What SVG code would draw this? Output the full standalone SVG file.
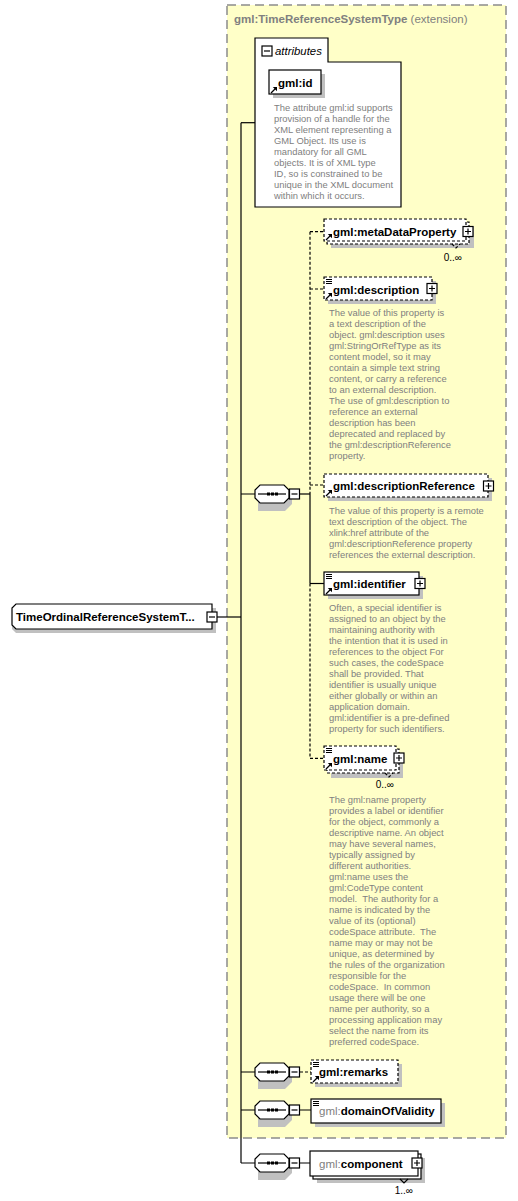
<svg xmlns="http://www.w3.org/2000/svg" xmlns:xlink="http://www.w3.org/1999/xlink" width="518" height="1201" viewBox="0 0 518 1201">
<defs>
<style>
.bg{fill:#ffffff}
.ext{fill:#ffffc8;stroke:#8c8c8c;stroke-width:1.5;stroke-dasharray:9,5}
.shadow{fill:#c0c0c0;stroke:none}
.box{fill:#ffffff;stroke:#000;stroke-width:1.2}
.opt{fill:#ffffff;stroke:#000;stroke-width:1.2;stroke-dasharray:3,2}
.ln{fill:none;stroke:#000;stroke-width:1.2}
.dln{fill:none;stroke:#000;stroke-width:1.2;stroke-dasharray:3,2}
.name{font-family:"Liberation Sans",Arial,sans-serif;font-size:11.5px;font-weight:bold;fill:#000}
.gray{fill:#808080}
.doc{font-family:"Liberation Sans",Arial,sans-serif;font-size:9.4px;fill:#808080;white-space:pre}
.occ{font-family:"Liberation Sans",Arial,sans-serif;font-size:10px;fill:#000}
.title{font-family:"Liberation Sans",Arial,sans-serif;font-size:11.5px;fill:#808080}
</style>
<g id="plus"><rect x="0" y="0" width="10" height="10" fill="#fff" stroke="#000" stroke-width="1.2"/><path d="M2,5H8M5,2V8" stroke="#000" stroke-width="1.2"/></g>
<g id="minus"><rect x="0" y="0" width="10" height="10" fill="#fff" stroke="#000" stroke-width="1.2"/><path d="M2,5H8" stroke="#000" stroke-width="1.2"/></g>
<g id="ref"><path d="M0,0L5,-5" stroke="#000" stroke-width="1.3"/><path d="M6,-6L1.8,-6L6,-1.8Z" fill="#000"/></g>
<g id="doci" shape-rendering="crispEdges"><path d="M0,0.5H6M0,2.5H6M0,4.5H6" stroke="#000" stroke-width="1"/></g>
<g id="seq">
<path d="M3,3H30L37,10V19L30,26H3Z" class="shadow"/>
<path d="M5,0H29L34,5V13L29,18H5L0,13V5Z" fill="#fff" stroke="#000" stroke-width="1.2"/>
<path d="M3,9H31" stroke="#000" stroke-width="1.2"/>
<rect x="12" y="7.5" width="3" height="3" fill="#000"/><rect x="16" y="7.5" width="3" height="3" fill="#000"/><rect x="20" y="7.5" width="3" height="3" fill="#000"/>
</g>
</defs>
<rect x="0" y="0" width="518" height="1201" class="bg"/>

<g id="extension">
<rect x="227" y="5" width="279" height="1133" class="ext"/>
<text x="234" y="23" class="title"><tspan font-weight="bold">gml:TimeReferenceSystemType</tspan> (extension)</text>
</g>

<g id="connectors">
<path d="M217,617H241" class="ln"/>
<path d="M241,122.7V1163" class="ln"/>
<path d="M241,122.7H255" class="ln"/>
<path d="M241,494H255M241,1072H255M241,1110H255M241,1163H255" class="ln"/>
<path d="M300,494H310" class="ln"/>
<path d="M310,231.7V494" class="dln"/>
<path d="M310,494V583.5" class="ln"/>
<path d="M310,583.5V758.3" class="dln"/>
<path d="M310,231.7H324M310,289H324M310,485H324M310,758.3H324" class="dln"/>
<path d="M310,583.5H324" class="ln"/>
<path d="M300,1072H311" class="dln"/>
<path d="M300,1110H311M300,1163H310" class="ln"/>
</g>

<g id="root">
<path d="M16,608H216V633H16L12,629V612Z" class="shadow"/>
<path d="M16,604H212V629H16L12,625V608Z" class="box"/>
<text x="16" y="621" class="name">TimeOrdinalReferenceSystemT...</text>
<use xlink:href="#minus" x="207" y="612"/>
</g>

<g id="attributes">
<path d="M255,38H328V62H401V207H255Z" class="box"/>
<use xlink:href="#minus" x="262" y="46"/>
<text x="275" y="55" font-family="Liberation Sans,Arial,sans-serif" font-size="11.4" font-style="italic" fill="#000">attributes</text>
</g>

<g id="gml-id">
<rect x="273" y="74" width="52" height="24" class="shadow"/>
<rect x="269" y="70" width="52" height="24" class="box"/>
<text x="278" y="86.5" class="name">gml:id</text>
<use xlink:href="#ref" x="271" y="93"/>
<text x="274" y="110.5" class="doc"><tspan x="274">The attribute gml:id supports</tspan><tspan x="274" dy="11">provision of a handle for the</tspan><tspan x="274" dy="11">XML element representing a</tspan><tspan x="274" dy="11">GML Object. Its use is</tspan><tspan x="274" dy="11">mandatory for all GML</tspan><tspan x="274" dy="11">objects. It is of XML type</tspan><tspan x="274" dy="11">ID, so is constrained to be</tspan><tspan x="274" dy="11">unique in the XML document</tspan><tspan x="274" dy="11">within which it occurs.</tspan></text>
</g>

<g id="seq1"><use xlink:href="#seq" x="255" y="485"/><use xlink:href="#minus" x="289.5" y="489"/></g>
<g id="seq2"><use xlink:href="#seq" x="255" y="1063"/><use xlink:href="#minus" x="289.5" y="1067"/></g>
<g id="seq3"><use xlink:href="#seq" x="255" y="1101"/><use xlink:href="#minus" x="289.5" y="1105"/></g>
<g id="seq4"><use xlink:href="#seq" x="255" y="1154"/><use xlink:href="#minus" x="289.5" y="1158"/></g>

<g id="metaDataProperty">
<rect x="331" y="226" width="143" height="22" class="shadow"/>
<rect x="327" y="222" width="142" height="22" class="opt"/>
<path d="M452,244L456,248L460,244" class="dln"/>
<rect x="324" y="219" width="142" height="22" class="opt"/>
<text x="333" y="236" class="name">gml:metaDataProperty</text>
<use xlink:href="#ref" x="326" y="240"/>
<use xlink:href="#plus" x="463" y="226.5"/>
<text x="462" y="261" class="occ" text-anchor="end">0..∞</text>
</g>

<g id="description">
<rect x="328" y="281" width="108" height="23" class="shadow"/>
<rect x="324" y="277" width="108" height="23" class="opt"/>
<use xlink:href="#doci" x="326" y="279"/>
<use xlink:href="#ref" x="326" y="299"/>
<text x="333" y="293.5" class="name">gml:description</text>
<use xlink:href="#plus" x="427" y="283.5"/>
<text x="329" y="316" class="doc"><tspan x="329">The value of this property is</tspan><tspan x="329" dy="11">a text description of the</tspan><tspan x="329" dy="11">object. gml:description uses</tspan><tspan x="329" dy="11">gml:StringOrRefType as its</tspan><tspan x="329" dy="11">content model, so it may</tspan><tspan x="329" dy="11">contain a simple text string</tspan><tspan x="329" dy="11">content, or carry a reference</tspan><tspan x="329" dy="11">to an external description.</tspan><tspan x="329" dy="11">The use of gml:description to</tspan><tspan x="329" dy="11">reference an external</tspan><tspan x="329" dy="11">description has been</tspan><tspan x="329" dy="11">deprecated and replaced by</tspan><tspan x="329" dy="11">the gml:descriptionReference</tspan><tspan x="329" dy="11">property.</tspan></text>
</g>

<g id="descriptionReference">
<rect x="328" y="478" width="164" height="23" class="shadow"/>
<rect x="324" y="474" width="164" height="23" class="opt"/>
<use xlink:href="#ref" x="326" y="496"/>
<text x="333" y="489.5" class="name">gml:descriptionReference</text>
<use xlink:href="#plus" x="483.5" y="481"/>
<text x="329" y="513.5" class="doc"><tspan x="329">The value of this property is a remote</tspan><tspan x="329" dy="11">text description of the object. The</tspan><tspan x="329" dy="11">xlink:href attribute of the</tspan><tspan x="329" dy="11">gml:descriptionReference property</tspan><tspan x="329" dy="11">references the external description.</tspan></text>
</g>

<g id="identifier">
<rect x="328" y="576" width="95" height="23" class="shadow"/>
<rect x="324" y="572" width="95" height="23" class="box"/>
<use xlink:href="#doci" x="326" y="574"/>
<use xlink:href="#ref" x="326" y="594"/>
<text x="333" y="588" class="name">gml:identifier</text>
<use xlink:href="#plus" x="415" y="578.5"/>
<text x="329" y="611" class="doc"><tspan x="329">Often, a special identifier is</tspan><tspan x="329" dy="11">assigned to an object by the</tspan><tspan x="329" dy="11">maintaining authority with</tspan><tspan x="329" dy="11">the intention that it is used in</tspan><tspan x="329" dy="11">references to the object For</tspan><tspan x="329" dy="11">such cases, the codeSpace</tspan><tspan x="329" dy="11">shall be provided. That</tspan><tspan x="329" dy="11">identifier is usually unique</tspan><tspan x="329" dy="11">either globally or within an</tspan><tspan x="329" dy="11">application domain.</tspan><tspan x="329" dy="11">gml:identifier is a pre-defined</tspan><tspan x="329" dy="11">property for such identifiers.</tspan></text>
</g>

<g id="name">
<rect x="331" y="753" width="72" height="25" class="shadow"/>
<rect x="327" y="749" width="72" height="24" class="opt"/>
<path d="M385,773L389,777L393,773" class="dln"/>
<rect x="324" y="746" width="72" height="24" class="opt"/>
<use xlink:href="#doci" x="326" y="748"/>
<use xlink:href="#ref" x="326" y="769"/>
<text x="333" y="762.5" class="name">gml:name</text>
<use xlink:href="#plus" x="394" y="753"/>
<text x="394" y="788" class="occ" text-anchor="end">0..∞</text>
<text x="329" y="803.3" class="doc"><tspan x="329">The gml:name property</tspan><tspan x="329" dy="11">provides a label or identifier</tspan><tspan x="329" dy="11">for the object, commonly a</tspan><tspan x="329" dy="11">descriptive name. An object</tspan><tspan x="329" dy="11">may have several names,</tspan><tspan x="329" dy="11">typically assigned by</tspan><tspan x="329" dy="11">different authorities.</tspan><tspan x="329" dy="11">gml:name uses the</tspan><tspan x="329" dy="11">gml:CodeType content</tspan><tspan x="329" dy="11">model.  The authority for a</tspan><tspan x="329" dy="11">name is indicated by the</tspan><tspan x="329" dy="11">value of its (optional)</tspan><tspan x="329" dy="11">codeSpace attribute.  The</tspan><tspan x="329" dy="11">name may or may not be</tspan><tspan x="329" dy="11">unique, as determined by</tspan><tspan x="329" dy="11">the rules of the organization</tspan><tspan x="329" dy="11">responsible for the</tspan><tspan x="329" dy="11">codeSpace.  In common</tspan><tspan x="329" dy="11">usage there will be one</tspan><tspan x="329" dy="11">name per authority, so a</tspan><tspan x="329" dy="11">processing application may</tspan><tspan x="329" dy="11">select the name from its</tspan><tspan x="329" dy="11">preferred codeSpace.</tspan></text>
</g>

<g id="remarks">
<rect x="315" y="1064" width="87" height="23" class="shadow"/>
<rect x="311" y="1060" width="87" height="23" class="opt"/>
<use xlink:href="#doci" x="313" y="1062"/>
<use xlink:href="#ref" x="313" y="1082"/>
<text x="319" y="1076" class="name">gml:remarks</text>
</g>

<g id="domainOfValidity">
<rect x="315" y="1103" width="130" height="24" class="shadow"/>
<rect x="311" y="1099" width="130" height="24" class="box"/>
<use xlink:href="#doci" x="313" y="1101"/>
<text x="319" y="1115" class="name"><tspan class="gray" font-weight="normal">gml:</tspan>domainOfValidity</text>
</g>

<g id="component">
<rect x="317" y="1158" width="108" height="25" class="shadow"/>
<rect x="313" y="1154" width="108" height="25" class="box"/>
<path d="M400,1179L404,1183L408,1179" class="ln"/>
<rect x="310" y="1151" width="108" height="25" class="box"/>
<text x="319" y="1167.5" class="name"><tspan class="gray" font-weight="normal">gml:</tspan>component</text>
<use xlink:href="#plus" x="412" y="1158"/>
<text x="413" y="1194" class="occ" text-anchor="end">1..∞</text>
</g>
</svg>
